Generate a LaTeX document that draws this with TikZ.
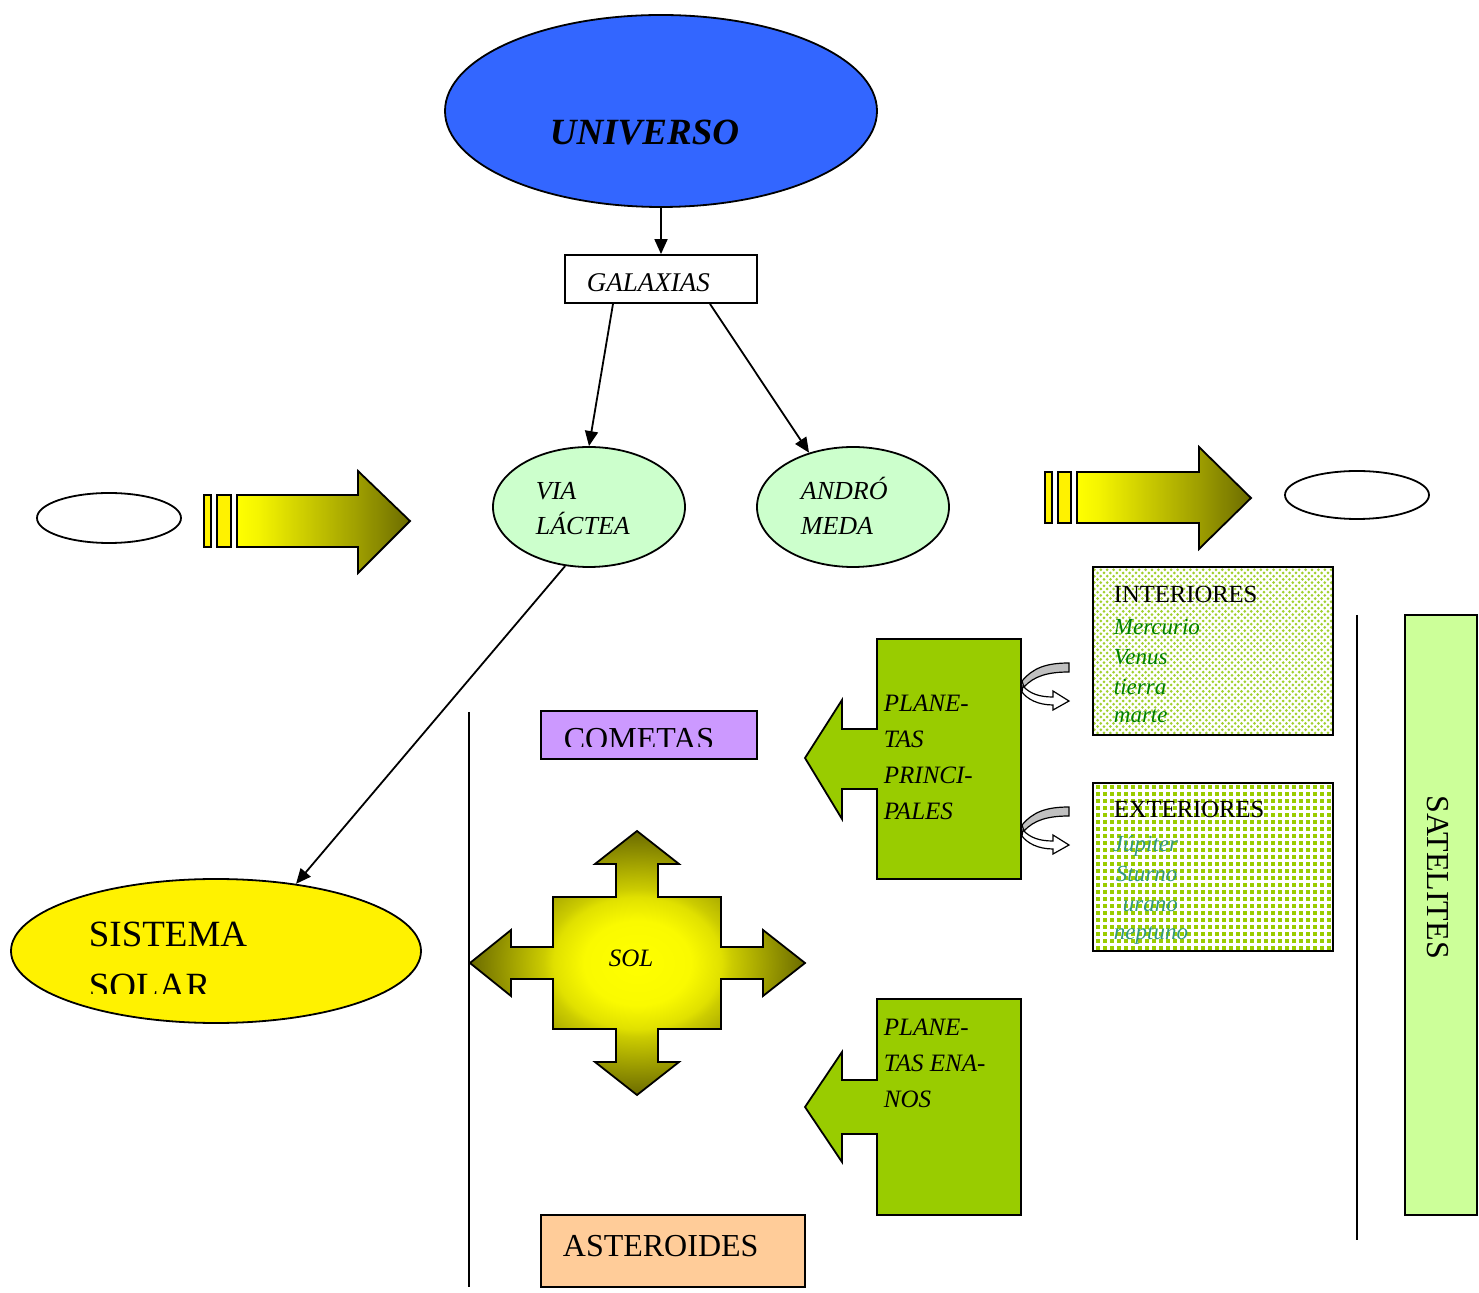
\documentclass[tikz,border=0pt]{standalone}
\usepackage{fontspec}
\setmainfont{Liberation Serif}
\usepackage{xcolor}
\usepackage{tikz}
\usetikzlibrary{arrows.meta,shapes.geometric,patterns}

\definecolor{univblue}{HTML}{3366FF}
\definecolor{palegreen}{HTML}{CCFFCC}
\definecolor{callgreen}{HTML}{99CC00}
\definecolor{dotgreen}{HTML}{A2D030}
\definecolor{lilac}{HTML}{CC99FF}
\definecolor{peach}{HTML}{FFCC99}
\definecolor{satgreen}{HTML}{CCFF99}
\definecolor{bandgray}{HTML}{C0C0C0}
\definecolor{darkgreen}{HTML}{008000}
\definecolor{seagreen}{HTML}{339980}

% shadings for the sun cross and the striped arrows (visible part is 25bp..75bp)
\pgfdeclareradialshading{sunshade}{\pgfpoint{0bp}{0bp}}{rgb(0bp)=(1,1,0); rgb(8bp)=(0.98,0.98,0); rgb(12.5bp)=(0.88,0.88,0); rgb(14bp)=(0.8,0.8,0); rgb(25bp)=(0.42,0.42,0); rgb(50bp)=(0.42,0.42,0)}
\pgfdeclarehorizontalshading{beamshade}{100bp}{rgb(0bp)=(1,1,0); rgb(25bp)=(1,1,0); rgb(31bp)=(0.96,0.96,0); rgb(60bp)=(0.62,0.62,0); rgb(75bp)=(0.42,0.42,0); rgb(100bp)=(0.42,0.42,0)}
\pgfdeclarepatternformonly{rounddots}{\pgfpoint{-1pt}{-1pt}}{\pgfpoint{4pt}{4pt}}{\pgfpoint{3.2pt}{3.2pt}}{\pgfpathcircle{\pgfpointorigin}{0.75pt}\pgfpathcircle{\pgfpoint{1.6pt}{1.6pt}}{0.75pt}\pgfusepath{fill}}
\pgfdeclarepatternformonly{squaredots}{\pgfpointorigin}{\pgfpoint{3.3pt}{3.3pt}}{\pgfpoint{3.3pt}{3.3pt}}{\pgfpathrectangle{\pgfpointorigin}{\pgfpoint{2.1pt}{2.1pt}}\pgfusepath{fill}}

\begin{document}
\begin{tikzpicture}[x=0.5pt,y=-0.5pt,line width=0.9pt,>={Triangle[length=7.5pt,width=6.5pt]},
 bubble/.style={ellipse,draw,inner sep=0pt},
 box/.style={rectangle,draw,inner sep=0pt},
 lbl/.style={anchor=base west,inner sep=0pt,font=\fontsize{13}{15}\selectfont\itshape},
 tms/.style={anchor=base west,inner sep=0pt,font=\fontsize{16}{18}\selectfont},
 planet/.style={anchor=base west,inner sep=0pt,font=\fontsize{11.5}{13}\selectfont\itshape}]
 \useasboundingbox (0,0) rectangle (1479,1293);

 % top of the map
 \node[bubble,fill=univblue,minimum width=216pt,minimum height=96pt] (univ) at (661,111) {};
 \node[lbl,font=\fontsize{18.5}{22}\selectfont\bfseries\itshape] (univ-t) at (549,145) {UNIVERSO};
 \node[box,fill=white,minimum width=96pt,minimum height=24pt] (gal) at (661,279) {};
 \node[lbl,font=\fontsize{13.5}{15}\selectfont\itshape] (gal-t) at (586,292) {GALAXIAS};

 \node[bubble,fill=palegreen,minimum width=96pt,minimum height=60pt] (via) at (589,507) {};
 \node[lbl] (via-t1) at (535,500) {VIA};
 \node[lbl] (via-t2) at (535,535) {LÁCTEA};
 \node[bubble,fill=palegreen,minimum width=96pt,minimum height=60pt] (andr) at (853,507) {};
 \node[lbl] (andr-t1) at (800,500) {ANDRÓ};
 \node[lbl] (andr-t2) at (800,535) {MEDA};

 \node[bubble,fill=yellow,minimum width=205pt,minimum height=72pt] (sis) at (216,951) {};
 \node[lbl,font=\fontsize{18.5}{20}\selectfont] (sis-t1) at (88,947) {SISTEMA};
 \begin{scope}
  \clip (60,960) rectangle (300,994);
  \node[lbl,font=\fontsize{18.5}{20}\selectfont] (sis-t2) at (88,999) {SOLAR};
 \end{scope}

 \draw[->] (univ) -- (gal);
 \draw[->] ([xshift=-24pt]gal.south) -- (via.north);
 \draw[->] ([xshift=24.5pt]gal.south) -- (andr.129);
 \draw[->] (via.248) -- (sis.40);

 % striped arrows and empty bubbles
 \node[bubble,minimum width=72pt,minimum height=25pt] (oleft) at (109,518) {};
 \node[bubble,minimum width=72pt,minimum height=24pt] (oright) at (1357,495) {};
 \foreach \a/\b in {204/211,217/231} \draw[fill=yellow] (\a,495) rectangle (\b,547);
 \shade[draw,shading=beamshade] (237,495) -- (358,495) -- (358,471) -- (410,521) -- (358,573) -- (358,547) -- (237,547) -- cycle;
 \foreach \a/\b in {1045/1052,1058/1071} \draw[fill=yellow] (\a,472) rectangle (\b,523);
 \shade[draw,shading=beamshade] (1077,472) -- (1199,472) -- (1199,447) -- (1251,498) -- (1199,549) -- (1199,523) -- (1077,523) -- cycle;

 % sun
 \shade[draw,shading=sunshade] (553,897) -- (616,897) -- (616,864) -- (595,864) -- (637,831) -- (679,864) -- (658,864) -- (658,897) -- (721,897) -- (721,947) -- (763,947) -- (763,930) -- (805,963) -- (763,996) -- (763,979) -- (721,979) -- (721,1029) -- (658,1029) -- (658,1062) -- (679,1062) -- (637,1095) -- (595,1062) -- (616,1062) -- (616,1029) -- (553,1029) -- (553,979) -- (511,979) -- (511,996) -- (470,963) -- (511,930) -- (511,947) -- (553,947) -- cycle;
 \node[lbl,font=\fontsize{12.5}{14}\selectfont\itshape] (sol) at (608,967) {SOL};

 \draw (469,712) -- (469,1287);
 \draw (1357,615) -- (1357,1240);

 \node[box,fill=lilac,minimum width=108pt,minimum height=24pt] (com) at (649,735) {};
 \begin{scope}
  \clip (541,700) rectangle (757,747);
  \node[tms] (com-t) at (563,750) {COMETAS};
 \end{scope}
 \node[box,fill=peach,minimum width=132pt,minimum height=36pt] (ast) at (673,1251) {};
 \node[tms] (ast-t) at (562,1256) {ASTEROIDES};

 % planets
 \draw[fill=callgreen] (877,639) -- (1021,639) -- (1021,879) -- (877,879) -- (877,789) -- (842,789) -- (842,819) -- (805,758) -- (842,700) -- (842,729) -- (877,729) -- cycle;
 \foreach \t [count=\i] in {PLANE-,TAS,PRINCI-,PALES}
  \node[lbl,font=\fontsize{12.5}{14}\selectfont\itshape] (pp\i) at (883,676+36*\i) {\t};
 \draw[fill=callgreen] (877,999) -- (1021,999) -- (1021,1215) -- (877,1215) -- (877,1134) -- (842,1134) -- (842,1162) -- (805,1107) -- (842,1052) -- (842,1080) -- (877,1080) -- cycle;
 \foreach \t [count=\i] in {PLANE-,TAS ENA-,NOS}
  \node[lbl,font=\fontsize{12.5}{14}\selectfont\itshape] (pe\i) at (883,1000+36*\i) {\t};

 \foreach \s in {0,144} {
  \begin{scope}[shift={(0,\s)},line width=0.6pt]
   \draw[fill=bandgray] (1022,681) .. controls (1033,668) and (1046,663) .. (1069,663) -- (1069,672) .. controls (1048,672) and (1034,676) .. (1024,687) -- cycle;
   \draw[fill=white] (1023,686) .. controls (1030,694) and (1040,697) .. (1053,697) -- (1053,691) -- (1069,701) -- (1053,710) -- (1053,705) .. controls (1038,705) and (1027,699) .. (1022,692) -- cycle;
  \end{scope}
 }

 \node[box,preaction={fill=white},pattern=rounddots,pattern color=dotgreen,minimum width=120pt,minimum height=84pt] (inte) at (1213,651) {};
 \node[lbl,font=\fontsize{12.3}{14}\selectfont] (inte-t) at (1113,603) {INTERIORES};
 \foreach \p/\y [count=\i] in {Mercurio/635,Venus/665,tierra/695,marte/723}
  \node[planet,text=darkgreen] (pi\i) at (1113,\y) {\p};
 \node[box,preaction={fill=white},pattern=squaredots,pattern color=callgreen,minimum width=120pt,minimum height=84pt] (exte) at (1213,867) {};
 \node[lbl,font=\fontsize{12.3}{14}\selectfont] (exte-t) at (1113,818) {EXTERIORES};
 \foreach \p/\x/\y [count=\i] in {Júpiter/1112/852,Sturno/1115/882,urano/1122/912,neptuno/1113/940}
  \node[planet,text=seagreen] (px\i) at (\x,\y) {\p};

 \node[box,fill=satgreen,minimum width=36pt,minimum height=300pt] (sat) at (1441,915) {};
 \node[rotate=-90,inner sep=0pt,font=\fontsize{16}{18}\selectfont] (sat-t) at (1438,877) {SATELITES};
\end{tikzpicture}
\end{document}
